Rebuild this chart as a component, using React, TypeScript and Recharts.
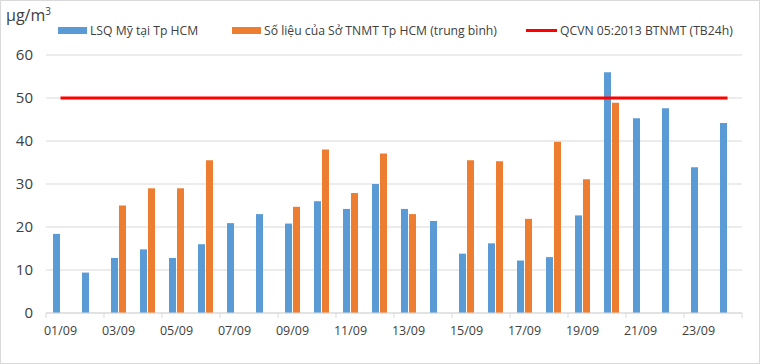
import { Bar, CartesianGrid, ComposedChart, Line, XAxis, YAxis } from "recharts"

const DAYS = [
  "01/09", "02/09", "03/09", "04/09", "05/09", "06/09", "07/09", "08/09",
  "09/09", "10/09", "11/09", "12/09", "13/09", "14/09", "15/09", "16/09",
  "17/09", "18/09", "19/09", "20/09", "21/09", "22/09", "23/09", "24/09",
]
const LSQ = [
  18.4, 9.4, 12.8, 14.8, 12.8, 16, 20.9, 23, 20.8, 26, 24.2, 30,
  24.2, 21.4, 13.8, 16.2, 12.2, 13, 22.7, 56, 45.3, 47.6, 33.9, 44.2,
]
const SO_TNMT: (number | null)[] = [
  null, null, 25, 29, 29, 35.5, null, null, 24.7, 38, 27.9, 37.1,
  23, null, 35.5, 35.3, 21.9, 39.8, 31.1, 48.9, null, null, null, null,
]
const QCVN = 50
const Y_TICKS = [0, 10, 20, 30, 40, 50, 60]

const W = 760
const H = 364
const LEFT = 46
const RIGHT = 18
const BAND = (W - LEFT - RIGHT) / DAYS.length

const BLUE = "#5b9bd5"
const ORANGE = "#ed7d31"
const RED = "#ff0000"
const TEXT = "#404040"
const FONT = "'Open Sans', sans-serif"

const data = DAYS.map((day, i) => ({
  day,
  lsq: LSQ[i],
  tnmt: SO_TNMT[i],
  qcvn: QCVN,
}))

function DayTick({ x, y, payload }: any) {
  const lastShown = payload.index === DAYS.length - 2
  return (
    <g>
      <line x1={x - BAND / 2} x2={x - BAND / 2} y1={y - 8} y2={y - 3} stroke="#d9d9d9" />
      {lastShown && (
        <line x1={x + BAND * 1.5} x2={x + BAND * 1.5} y1={y - 8} y2={y - 3} stroke="#d9d9d9" />
      )}
      <text x={x} y={y + 14} textAnchor="middle" fill={TEXT} fontSize={12.5} fontFamily={FONT}>
        {payload.value}
      </text>
    </g>
  )
}

// legend drawn as html so it doesn't push the plot down
function LegendRow() {
  const items = [
    { label: "LSQ Mỹ tại Tp HCM", color: BLUE, left: 57 },
    { label: "Số liệu của Sở TNMT Tp HCM (trung bình)", color: ORANGE, left: 231 },
    { label: "QCVN 05:2013 BTNMT (TB24h)", color: RED, left: 525, line: true },
  ]
  return (
    <>
      {items.map((it) => (
        <div
          key={it.label}
          style={{
            position: "absolute",
            left: it.left,
            top: 20,
            height: 18,
            display: "flex",
            alignItems: "center",
            gap: 3,
            fontFamily: FONT,
            fontSize: 12.2,
            color: TEXT,
            whiteSpace: "nowrap",
          }}
        >
          <div style={{ width: it.line ? 31 : 29, height: it.line ? 3 : 7, background: it.color }} />
          <span>{it.label}</span>
        </div>
      ))}
    </>
  )
}

export default function App() {
  return (
    <div
      style={{
        position: "absolute",
        left: 0,
        top: 0,
        width: W,
        height: H,
        boxSizing: "border-box",
        border: "1px solid #d9d9d9",
        background: "#fff",
      }}
    >
      <div
        style={{
          position: "absolute",
          left: 5,
          top: 3,
          fontFamily: FONT,
          fontSize: 16,
          color: TEXT,
        }}
      >
        μg/m<sup style={{ fontSize: 10 }}>3</sup>
      </div>
      <LegendRow />
      <ComposedChart
        width={W - 2}
        height={H - 2}
        data={data}
        margin={{ top: 54, right: RIGHT - 1, left: 6, bottom: 0 }}
        barSize={7}
        barGap={1}
      >
        <CartesianGrid vertical={false} stroke="#d9d9d9" />
        <XAxis
          dataKey="day"
          interval={1}
          height={50}
          tickLine={false}
          axisLine={{ stroke: "#d9d9d9" }}
          tick={<DayTick />}
        />
        <YAxis
          width={39}
          domain={[0, 60]}
          ticks={Y_TICKS}
          axisLine={false}
          tickLine={false}
          tick={{ fill: TEXT, fontSize: 15, fontFamily: FONT, dx: -5 }}
        />
        <Bar dataKey="lsq" fill={BLUE} isAnimationActive={false} />
        <Bar dataKey="tnmt" fill={ORANGE} isAnimationActive={false} />
        <Line
          dataKey="qcvn"
          stroke={RED}
          strokeWidth={3}
          dot={false}
          activeDot={false}
          isAnimationActive={false}
        />
      </ComposedChart>
    </div>
  )
}
